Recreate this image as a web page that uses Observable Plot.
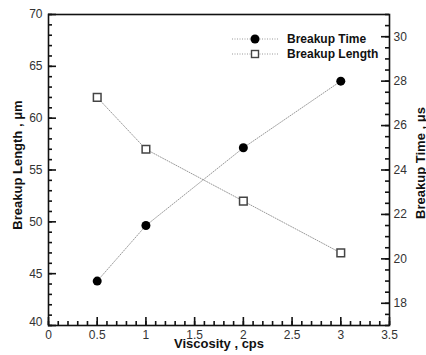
<!DOCTYPE html>
<html><head><meta charset="utf-8">
<script src="https://cdn.jsdelivr.net/npm/d3@7"></script>
<script src="https://cdn.jsdelivr.net/npm/@observablehq/plot@0.6"></script>
<style>
body{margin:0;background:#fff;}
#wrap{position:relative;width:426px;height:355px;font-family:"Liberation Sans",Arial,sans-serif;}
#legend{position:absolute;left:232px;top:31px;font:bold 12px "Liberation Sans",Arial,sans-serif;color:#111;}
#legend .row{display:flex;align-items:center;height:15px;}
#legend svg{margin-right:9px;}
</style></head>
<body><div id="wrap"><div id="chart"></div>
<div id="legend"></div></div>
<script>
const viscosity = [0.5, 1, 2, 3];
const breakupTime = [19.0, 21.5, 25.0, 28.0];      // µs, right axis
const breakupLength = [62, 57, 52, 47];            // µm, left axis
const seriesNames = ["Breakup Time", "Breakup Length"];
const xTicks = [0, 0.5, 1, 1.5, 2, 2.5, 3, 3.5];
const leftTicks = [40, 45, 50, 55, 60, 65, 70];
const rightTicks = [18, 20, 22, 24, 26, 28, 30];

const leftDomain = [40, 70];
const rightDomain = [17, 31];
const toLeft = t => leftDomain[0] + (t - rightDomain[0]) * (leftDomain[1] - leftDomain[0]) / (rightDomain[1] - rightDomain[0]);
const fromLeft = v => rightDomain[0] + (v - leftDomain[0]) * (rightDomain[1] - rightDomain[0]) / (leftDomain[1] - leftDomain[0]);

const timeData = viscosity.map((v, i) => ({x: v, y: breakupTime[i]}));
const lenData = viscosity.map((v, i) => ({x: v, y: breakupLength[i]}));

const xMinor = d3.range(0, 35.01, 1).map(d => d / 10);
const leftMinor = d3.range(40, 70.01, 1);
const rightMinor = d3.range(34, 62.01, 1).map(d => toLeft(d / 2));

const W = 426, H = 355, mL = 48, mR = 37, mT = 14, mB = 30;
const pw = W - mL - mR, ph = H - mT - mB;
const minor = 4, major = 8;
const tk = {stroke: "#111", strokeWidth: 1.6};
const fmt = d => String(d);

const chart = Plot.plot({
  width: W, height: H,
  marginLeft: mL, marginRight: mR, marginTop: mT, marginBottom: mB,
  style: {fontFamily: "'Liberation Sans', Arial, sans-serif", fontSize: "12px", background: "#fff"},
  x: {domain: [0, 3.5]},
  y: {domain: leftDomain},
  marks: [
    // inward ticks: minor and major
    Plot.ruleX(xMinor, {x: d => d, insetTop: ph - minor, ...tk}),
    Plot.ruleX(xTicks, {x: d => d, insetTop: ph - major, ...tk}),
    Plot.ruleY(leftMinor, {y: d => d, insetRight: pw - minor, ...tk}),
    Plot.ruleY(leftTicks, {y: d => d, insetRight: pw - major, ...tk}),
    Plot.ruleY(rightMinor, {y: d => d, insetLeft: pw - minor, ...tk}),
    Plot.ruleY(rightTicks.map(toLeft), {y: d => d, insetLeft: pw - major, ...tk}),
    // tick labels
    Plot.axisX(xTicks, {tickSize: 0, tickPadding: 5, tickFormat: fmt, label: null, fill: "#333", fontSize: 12}),
    Plot.axisY(leftTicks.slice(1), {anchor: "left", tickSize: 0, tickPadding: 6, tickFormat: fmt, label: null, fill: "#333", fontSize: 12}),
    Plot.axisY([40], {anchor: "left", tickSize: 0, tickPadding: 6, dy: -3, tickFormat: fmt, label: null, fill: "#333", fontSize: 12}),
    Plot.axisY(rightTicks.map(toLeft), {anchor: "right", tickSize: 0, tickPadding: 4, tickFormat: d => String(Math.round(fromLeft(d))), label: null, fill: "#333", fontSize: 12}),
    // axis titles
    Plot.text(["Viscosity , cps"], {frameAnchor: "bottom", dy: 22, textAnchor: "middle", text: d => d, fontWeight: "bold", fontSize: 13, fill: "#111"}),
    Plot.text(["Breakup Length , \u03bcm"], {frameAnchor: "left", dx: -31, dy: -5, textAnchor: "middle", rotate: -90, text: d => d, fontWeight: "bold", fontSize: 13, fill: "#111"}),
    Plot.text(["Breakup Time , \u03bcs"], {frameAnchor: "right", dx: 31, dy: -7, textAnchor: "middle", rotate: -90, text: d => d, fontWeight: "bold", fontSize: 13, fill: "#111"}),
    Plot.frame({stroke: "#111", strokeWidth: 1.6}),
    // series
    Plot.line(lenData, {x: "x", y: "y", stroke: "#999", strokeWidth: 1, strokeDasharray: "1,1.5"}),
    Plot.line(timeData, {x: "x", y: d => toLeft(d.y), stroke: "#999", strokeWidth: 1, strokeDasharray: "1,1.5"}),
    Plot.dot(lenData, {x: "x", y: "y", symbol: "square", r: 4.3, fill: "#fff", stroke: "#444", strokeWidth: 1.5}),
    Plot.dot(timeData, {x: "x", y: d => toLeft(d.y), r: 4.5, fill: "#000", stroke: "none"})
  ]
});
document.getElementById("chart").appendChild(chart);

const legend = document.getElementById("legend");
const markers = [
  `<circle cx="23" cy="6" r="4.5" fill="#000"/>`,
  `<rect x="19.5" y="2.5" width="7" height="7" fill="#fff" stroke="#444" stroke-width="1.4"/>`
];
seriesNames.forEach((name, i) => {
  const row = document.createElement("div");
  row.className = "row";
  row.innerHTML = `<svg width="46" height="12"><line x1="0" x2="46" y1="6" y2="6" stroke="#999" stroke-dasharray="1,1.5"/>${markers[i]}</svg><span>${name}</span>`;
  legend.appendChild(row);
});
</script></body></html>
